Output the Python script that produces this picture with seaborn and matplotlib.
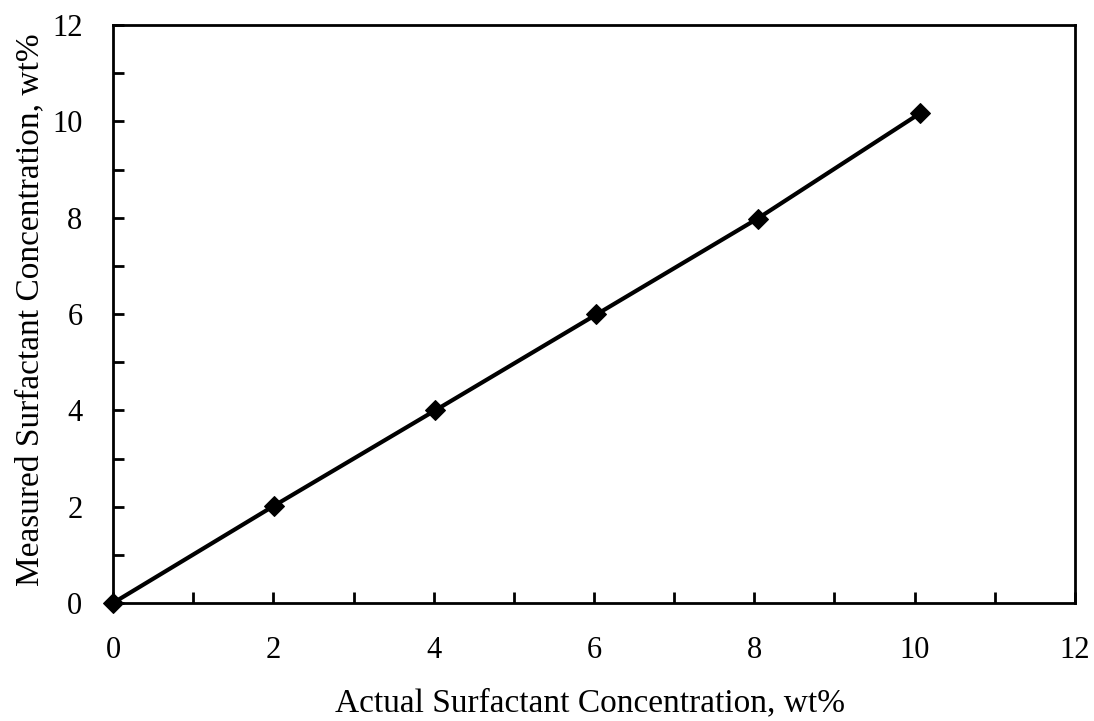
import matplotlib
matplotlib.use("Agg")
import matplotlib.pyplot as plt
from matplotlib.ticker import MultipleLocator
import seaborn as sns
import pandas as pd

actual = [0.0, 2.01, 4.02, 6.03, 8.04, 10.07]
measured = [0.0, 2.02, 4.00, 5.99, 7.98, 10.17]

sns.set_theme(style="ticks")
plt.rcParams["font.family"] = ["Liberation Serif", "DejaVu Serif"]
plt.rcParams["text.color"] = "black"

df = pd.DataFrame({"actual": actual, "measured": measured})

fig = plt.figure(figsize=(10.94, 7.21), dpi=100)
ax = fig.add_axes([113 / 1094, 1 - 603 / 721, (1075 - 113) / 1094, (603 - 25) / 721])

sns.lineplot(data=df, x="actual", y="measured", ax=ax, color="black",
             linewidth=3, marker="D", markersize=10, markeredgecolor="black",
             markerfacecolor="black", clip_on=False, zorder=5)

ax.set_xlim(0, 12)
ax.set_ylim(0, 12)
ax.xaxis.set_major_locator(MultipleLocator(2))
ax.yaxis.set_major_locator(MultipleLocator(2))
ax.xaxis.set_minor_locator(MultipleLocator(1))
ax.yaxis.set_minor_locator(MultipleLocator(1))
ax.tick_params(which="both", direction="in", length=8, width=2, colors="black",
               labelcolor="black", top=False, right=False)
ax.tick_params(axis="x", which="major", labelsize=22, pad=24)
ax.tick_params(axis="y", which="major", labelsize=22, pad=22)
for side in ax.spines.values():
    side.set_linewidth(2)
    side.set_color("black")

ax.set_xlabel("Actual Surfactant Concentration, wt%", fontsize=24,
              color="black", va="center")
ax.set_ylabel("Measured Surfactant Concentration, wt%", fontsize=24,
              color="black", va="center")
ax.xaxis.set_label_coords(0.496, -0.173)
ax.yaxis.set_label_coords(-0.086, 0.507)

fig.savefig("out.png", dpi=100)
